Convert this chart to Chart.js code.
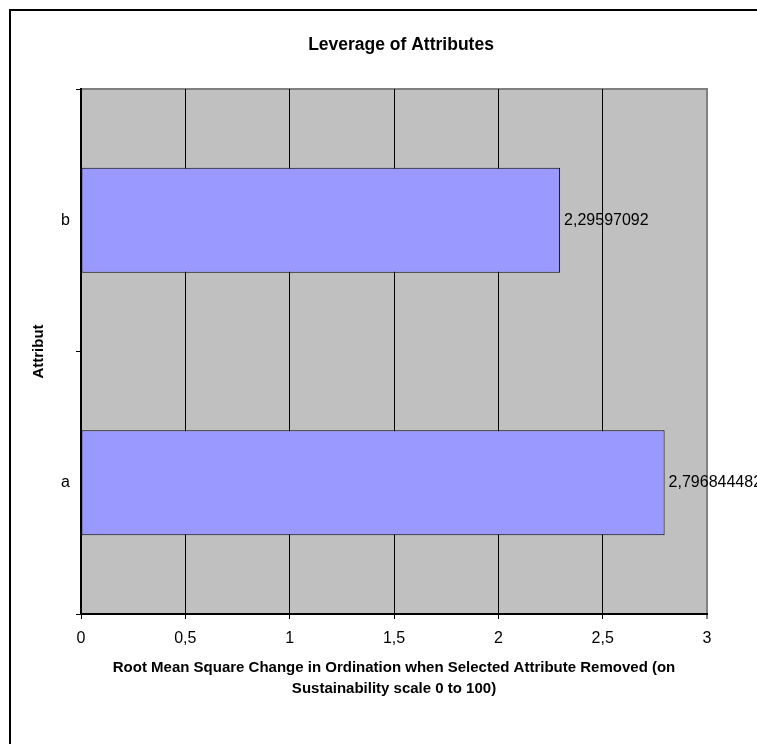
<!DOCTYPE html>
<html>
<head>
<meta charset="utf-8">
<title>Leverage of Attributes</title>
<script src="https://cdn.jsdelivr.net/npm/chart.js@4.4.1/dist/chart.umd.min.js"></script>
<style>
  html, body { margin: 0; padding: 0; background: #fff; overflow: hidden; }
  #c { display: block; }
</style>
</head>
<body>
<canvas id="c" width="757" height="744"></canvas>
<script>
// ---- data ----
const chartTitle = 'Leverage of Attributes';
const categories = ['a', 'b'];
const leverage = [2.796844482, 2.29597092];
const xTicks = [0, 0.5, 1, 1.5, 2, 2.5, 3];
const xAxisTitle = [
  'Root Mean Square Change in Ordination when Selected Attribute Removed (on',
  'Sustainability scale 0 to 100)'
];
const yAxisTitle = 'Attribut';

// ---- helpers ----
const FONT = '"Liberation Sans", Arial, Helvetica, sans-serif';
const fmt = v => String(v).replace('.', ',');

Chart.defaults.font.family = FONT;
Chart.defaults.color = '#000';

// White page, outer chart frame, grey plot area and the chart heading
const backdrop = {
  id: 'backdrop',
  beforeDraw(chart) {
    const { ctx, chartArea: a } = chart;
    ctx.save();
    ctx.fillStyle = '#fff';
    ctx.fillRect(0, 0, chart.width, chart.height);

    ctx.strokeStyle = '#000';
    ctx.lineWidth = 2;
    ctx.strokeRect(10, 10, chart.width + 40, chart.height + 40);

    ctx.fillStyle = '#C0C0C0';
    ctx.fillRect(a.left, a.top, a.right - a.left, a.bottom - a.top);
    ctx.strokeStyle = '#808080';
    ctx.lineWidth = 2;
    ctx.beginPath();
    ctx.moveTo(a.left, a.top);
    ctx.lineTo(a.right, a.top);
    ctx.lineTo(a.right, a.bottom);
    ctx.stroke();

    ctx.fillStyle = '#000';
    ctx.font = 'bold 17.5px ' + FONT;
    ctx.textAlign = 'center';
    ctx.textBaseline = 'middle';
    ctx.fillText(chartTitle, (a.left + a.right) / 2 + 7, 45);
    ctx.restore();
  }
};

// Value printed just past the end of each bar
const valueLabels = {
  id: 'valueLabels',
  afterDatasetsDraw(chart) {
    const { ctx } = chart;
    const ds = chart.data.datasets[0];
    const meta = chart.getDatasetMeta(0);
    ctx.save();
    ctx.font = '16px ' + FONT;
    ctx.fillStyle = '#000';
    ctx.textAlign = 'left';
    ctx.textBaseline = 'middle';
    meta.data.forEach((bar, i) => {
      ctx.fillText(fmt(ds.data[i]), bar.x + 4, bar.y);
    });
    ctx.restore();
  }
};

new Chart(document.getElementById('c'), {
  type: 'bar',
  data: {
    labels: categories,
    datasets: [{
      data: leverage,
      backgroundColor: '#9999FF',
      borderColor: '#000',
      borderWidth: 1,
      borderSkipped: false,
      barPercentage: 0.4,
      categoryPercentage: 1.0
    }]
  },
  options: {
    indexAxis: 'y',
    responsive: false,
    animation: false,
    devicePixelRatio: 1,
    layout: { padding: { top: 89, right: 50, bottom: 0, left: 0 } },
    plugins: {
      legend: { display: false },
      tooltip: { enabled: false },
      title: { display: false }
    },
    scales: {
      x: {
        type: 'linear',
        min: 0,
        max: 3,
        afterBuildTicks: s => { s.ticks = xTicks.map(v => ({ value: v })); },
        afterFit: s => { s.height = 130; },
        ticks: {
          callback: v => fmt(v),
          color: '#000',
          font: { size: 16 },
          padding: 10,
          maxRotation: 0,
          autoSkip: false
        },
        grid: {
          color: c => (c.tick && c.tick.value === 3 ? '#808080' : '#000'),
          lineWidth: c => (c.tick && c.tick.value === 3 ? 2 : 1),
          drawTicks: true,
          tickLength: 5,
          tickColor: '#000',
          tickWidth: 1
        },
        border: { color: '#000', width: 2 },
        title: {
          display: true,
          text: xAxisTitle,
          color: '#000',
          font: { size: 15, weight: 'bold', lineHeight: 1.4 },
          padding: { top: 0, bottom: 45 }
        }
      },
      y: {
        type: 'category',
        reverse: true,
        offset: true,
        afterFit: s => { s.width = 81; },
        ticks: { color: '#000', font: { size: 16 }, padding: 6 },
        grid: {
          offset: true,
          drawOnChartArea: false,
          drawTicks: true,
          tickLength: 5,
          tickColor: '#000',
          color: '#000'
        },
        border: { color: '#000', width: 2 },
        title: {
          display: true,
          text: yAxisTitle,
          color: '#000',
          font: { size: 15, weight: 'bold', lineHeight: 1.2 },
          padding: { top: 30, bottom: 0 }
        }
      }
    }
  },
  plugins: [backdrop, valueLabels]
});
</script>
</body>
</html>
